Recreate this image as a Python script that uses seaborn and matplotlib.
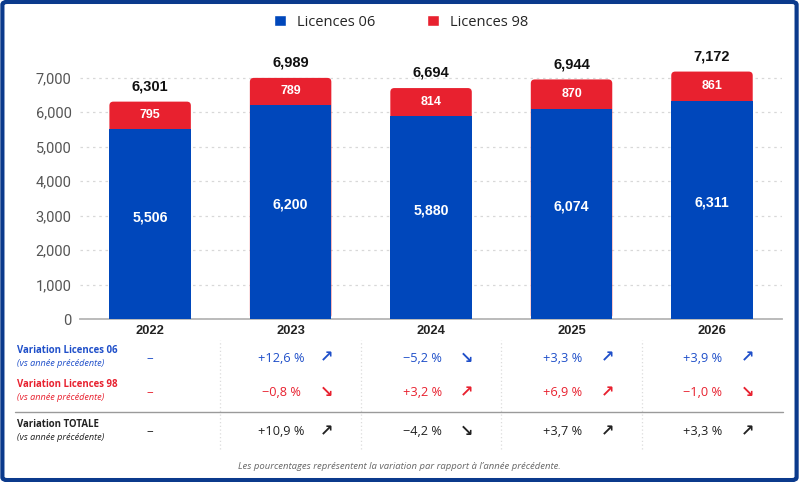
import matplotlib
matplotlib.use("Agg")
import matplotlib.pyplot as plt
import pandas as pd
import seaborn as sns
from matplotlib.patches import FancyBboxPatch, Patch
from matplotlib.lines import Line2D
from matplotlib.transforms import blended_transform_factory

# data
years = ["2022", "2023", "2024", "2025", "2026"]
lic06 = [5506, 6200, 5880, 6074, 6311]
lic98 = [795, 789, 814, 870, 861]
var06 = [None, 12.6, -5.2, 3.3, 3.9]
var98 = [None, -0.8, 3.2, 6.9, -1.0]
var_tot = [None, 10.9, -4.2, 3.7, 3.3]

BLUE = "#0047bb"
RED = "#e8212f"
BLUE_TXT = "#1f4fc9"
RED_TXT = "#e8212f"
DARK = "#222222"
FRAME = "#0b3a8c"

totals = [a + b for a, b in zip(lic06, lic98)]
df = pd.DataFrame({"year": years, "l06": lic06, "l98": lic98, "total": totals})

sns.set_style("white")
plt.rcParams["font.family"] = ["Liberation Sans", "DejaVu Sans"]

fig = plt.figure(figsize=(7.99, 4.82), dpi=100)
ax = fig.add_axes([0.100, 0.338, 0.879, 0.537])

sns.barplot(data=df, x="year", y="total", color=RED, saturation=1, width=0.58,
            ax=ax, zorder=2, edgecolor="none", linewidth=0)
ax.set_xlim(-0.52, 4.46)
ax.set_ylim(0, 7500)

# rounded tops on the stacked bars
bbox = ax.get_window_extent()
x_per_px = (4.46 + 0.52) / bbox.width
y_per_px = 7500 / bbox.height
for p in list(ax.patches):
    x0, y0, w, h = p.get_x(), p.get_y(), p.get_width(), p.get_height()
    p.remove()
    ax.add_patch(FancyBboxPatch((x0, y0), w, h,
                                boxstyle=f"round,pad=0,rounding_size={4 * x_per_px}",
                                mutation_aspect=y_per_px / x_per_px,
                                facecolor=RED, edgecolor="none", zorder=2))

sns.barplot(data=df, x="year", y="l06", color=BLUE, saturation=1, width=0.58,
            ax=ax, zorder=3, edgecolor="none", linewidth=0)

for i in range(len(years)):
    ax.text(i, lic06[i] * 0.535, f"{lic06[i]:,}", ha="center", va="center",
            color="white", fontsize=10.2, fontweight="bold", zorder=4)
    ax.text(i, lic06[i] + lic98[i] / 2, f"{lic98[i]:,}", ha="center", va="center",
            color="white", fontsize=9.0, fontweight="bold", zorder=4)
    ax.annotate(f"{totals[i]:,}", (i, totals[i]), xytext=(0, 6),
                textcoords="offset points", ha="center", va="bottom",
                color="#111111", fontsize=10.5, fontweight="bold")

ax.set_yticks(range(0, 7001, 1000))
ax.set_yticklabels([f"{v:,}" for v in range(0, 7001, 1000)], color="#555555",
                   fontsize=10.5, family=["Roboto", "DejaVu Sans"])
ax.set_xticklabels(years, fontweight="bold", fontsize=9.3, color=DARK)
ax.tick_params(axis="both", length=0, pad=4)
ax.tick_params(axis="y", pad=6)
ax.set_xlabel("")
ax.set_ylabel("")
ax.yaxis.grid(True, linestyle=(0, (2, 3)), color="#d8d8d8", linewidth=0.9)
ax.set_axisbelow(True)
for s in ["top", "right", "left"]:
    ax.spines[s].set_visible(False)
ax.spines["bottom"].set_color("#b5b5b5")
ax.spines["bottom"].set_linewidth(1.3)

# legend
handles = [Patch(facecolor=BLUE, label="Licences 06"),
           Patch(facecolor=RED, label="Licences 98")]
fig.legend(handles=handles, loc="center", bbox_to_anchor=(0.502, 0.954), ncol=2,
           frameon=False, handlelength=0.82, handleheight=0.82, columnspacing=3.6,
           handletextpad=0.75, prop={"family": ["Open Sans", "DejaVu Sans"], "size": 10.5})

# variation table under the bars
tf = blended_transform_factory(ax.transData, fig.transFigure)
table_font = ["Open Sans", "DejaVu Sans"]
rows = [
    ("Variation Licences 06", var06, BLUE_TXT, 0.257, 0.272, 0.245),
    ("Variation Licences 98", var98, RED_TXT, 0.185, 0.203, 0.176),
    ("Variation TOTALE", var_tot, DARK, 0.104, 0.120, 0.093),
]
for label, vals, col, y, ylab, ysub in rows:
    fig.text(0.021, ylab, label, color=col, fontsize=6.9, fontweight="bold",
             va="center", family=table_font)
    fig.text(0.021, ysub, "(vs année précédente)", color=col, fontsize=6.6,
             style="italic", va="center", family=table_font)
    for i, v in enumerate(vals):
        if v is None:
            ax.text(i, y, "–", transform=tf, ha="center", va="center", color=col,
                    fontsize=9.5, family=table_font, clip_on=False)
            continue
        s = ("+" if v >= 0 else "−") + f"{abs(v):.1f}".replace(".", ",") + " %"
        ax.text(i - 0.064, y, s, transform=tf, ha="center", va="center", color=col,
                fontsize=9.2, family=table_font, clip_on=False)
        ax.text(i + 0.255, y, "↗" if v >= 0 else "↘", transform=tf, ha="center",
                va="center", color=col, fontsize=11.5, fontweight="bold",
                family=["DejaVu Sans"], clip_on=False)

for xb in [0.5, 1.5, 2.5, 3.5]:
    ax.add_line(Line2D([xb, xb], [0.068, 0.295], transform=tf, color="#dcdcdc",
                       linestyle=(0, (1, 2)), linewidth=0.9, clip_on=False))
fig.add_artist(Line2D([0.019, 0.980], [0.145, 0.145], color="#9a9a9a", linewidth=1.0))

fig.text(0.5, 0.033, "Les pourcentages représentent la variation par rapport à l’année précédente.",
         ha="center", va="center", fontsize=6.8, style="italic", color="#666666",
         family=table_font)

# outer frame
fig.add_artist(FancyBboxPatch((0.003, 0.004), 0.994, 0.992,
                              boxstyle="round,pad=0,rounding_size=0.006",
                              transform=fig.transFigure, facecolor="none",
                              edgecolor=FRAME, linewidth=3))

fig.savefig("out.png", dpi=100, facecolor="white")
